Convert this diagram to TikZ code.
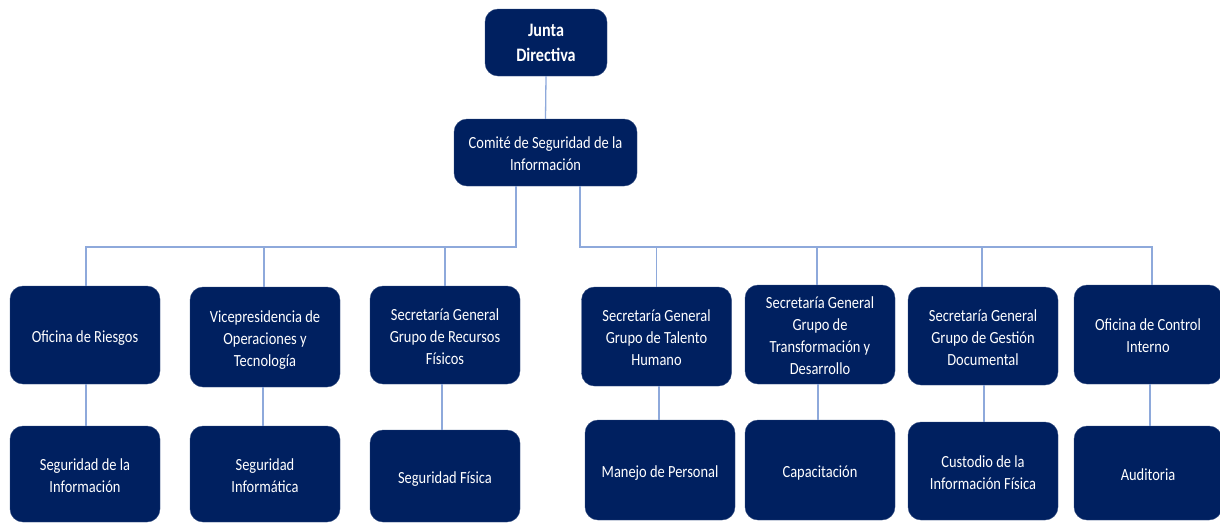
\documentclass[tikz,border=0pt]{standalone}
\usepackage{fontspec}
\setmainfont{Carlito}[FakeStretch=0.85]
\definecolor{boxnavy}{HTML}{002060}
\definecolor{linkblue}{HTML}{8EA9DB}
\newcommand\tstr{\rule{0pt}{19pt}}
\newcommand\bstr{\rule[-4.5pt]{0pt}{4.5pt}}
\begin{document}
\begin{tikzpicture}[x=1pt,y=-1pt,
  orgbox/.style={rectangle, rounded corners=13pt, fill=boxnavy, draw=boxnavy!80!white, line width=0.4pt,
    text=white, align=center, inner sep=2pt, font=\fontsize{17}{22}\selectfont},
  toptext/.style={font=\fontsize{19}{25}\selectfont\bfseries},
  link/.style={draw=linkblue, line width=1.3pt}]
\useasboundingbox (0,0) rectangle (1220,523);
% top
\node[orgbox, toptext, minimum width=122pt, minimum height=67pt] (j) at (546,42.5) {Junta\\Directiva};
\node[orgbox, minimum width=183pt, minimum height=67pt] (c) at (545.5,152.5) {\tstr Comité de Seguridad de la\\Información\bstr};
% row 1
\node[orgbox, minimum width=150pt, minimum height=98pt] (o1) at (85,335) {\tstr Oficina de Riesgos\bstr};
\node[orgbox, minimum width=150pt, minimum height=100pt] (o2) at (265,337) {\tstr Vicepresidencia de\\Operaciones y\\Tecnología\bstr};
\node[orgbox, minimum width=150pt, minimum height=98pt] (o3) at (445,335) {\tstr Secretaría General\\Grupo de Recursos\\Físicos\bstr};
\node[orgbox, minimum width=150pt, minimum height=99pt] (o4) at (656.5,336.5) {\tstr Secretaría General\\Grupo de Talento\\Humano\bstr};
\node[orgbox, minimum width=150pt, minimum height=99pt] (o5) at (820,334.5) {\tstr Secretaría General\\Grupo de\\Transformación y\\Desarrollo\bstr};
\node[orgbox, minimum width=150pt, minimum height=98pt] (o6) at (983,336) {\tstr Secretaría General\\Grupo de Gestión\\Documental\bstr};
\node[orgbox, minimum width=148pt, minimum height=99pt] (o7) at (1148,334.5) {\tstr Oficina de Control\\Interno\bstr};
% row 2
\node[orgbox, minimum width=150pt, minimum height=96pt] (s1) at (85,474) {\tstr Seguridad de la\\Información\bstr};
\node[orgbox, minimum width=150pt, minimum height=96pt] (s2) at (265,474) {\tstr Seguridad\\Informática\bstr};
\node[orgbox, minimum width=150pt, minimum height=92pt] (s3) at (445,476) {\tstr Seguridad Física\bstr};
\node[orgbox, minimum width=150pt, minimum height=100pt] (s4) at (660,470) {\tstr Manejo de Personal\bstr};
\node[orgbox, minimum width=150pt, minimum height=100pt] (s5) at (820,470) {\tstr Capacitación\bstr};
\node[orgbox, minimum width=150pt, minimum height=98pt] (s6) at (983,471) {\tstr Custodio de la\\Información Física\bstr};
\node[orgbox, minimum width=148pt, minimum height=94pt] (s7) at (1148,473) {\tstr Auditoria\bstr};
% bus coordinates
\coordinate (busL) at (516,247);
\coordinate (busR) at (580,247);
% connectors
\draw[link] (j.south) -- (c.north);
\draw[link] (c.south -| busL) -- (busL) -| ([xshift=1pt]o1.north);
\draw[link] (busL) -| ([xshift=-1pt]o2.north);
\draw[link] (busL) -| (o3.north);
\draw[link] (c.south -| busR) -- (busR) -| ([xshift=4pt]o7.north);
\draw[link] (o4.north |- busR) -- (o4.north);
\draw[link] ([xshift=-3pt]o5.north |- busR) -- ([xshift=-3pt]o5.north);
\draw[link] ([xshift=-1pt]o6.north |- busR) -- ([xshift=-1pt]o6.north);
% row1 to row2
\draw[link] ([xshift=1pt]o1.south) -- ([xshift=1pt]o1.south |- s1.north);
\draw[link] ([xshift=-2pt]o2.south) -- ([xshift=-2pt]o2.south |- s2.north);
\draw[link] ([xshift=-3pt]o3.south) -- ([xshift=-3pt]o3.south |- s3.north);
\draw[link] ([xshift=2.5pt]o4.south) -- ([xshift=2.5pt]o4.south |- s4.north);
\draw[link] ([xshift=-2pt]o5.south) -- ([xshift=-2pt]o5.south |- s5.north);
\draw[link] ([xshift=1pt]o6.south) -- ([xshift=1pt]o6.south |- s6.north);
\draw[link] ([xshift=2pt]o7.south) -- ([xshift=2pt]o7.south |- s7.north);
\end{tikzpicture}
\end{document}
